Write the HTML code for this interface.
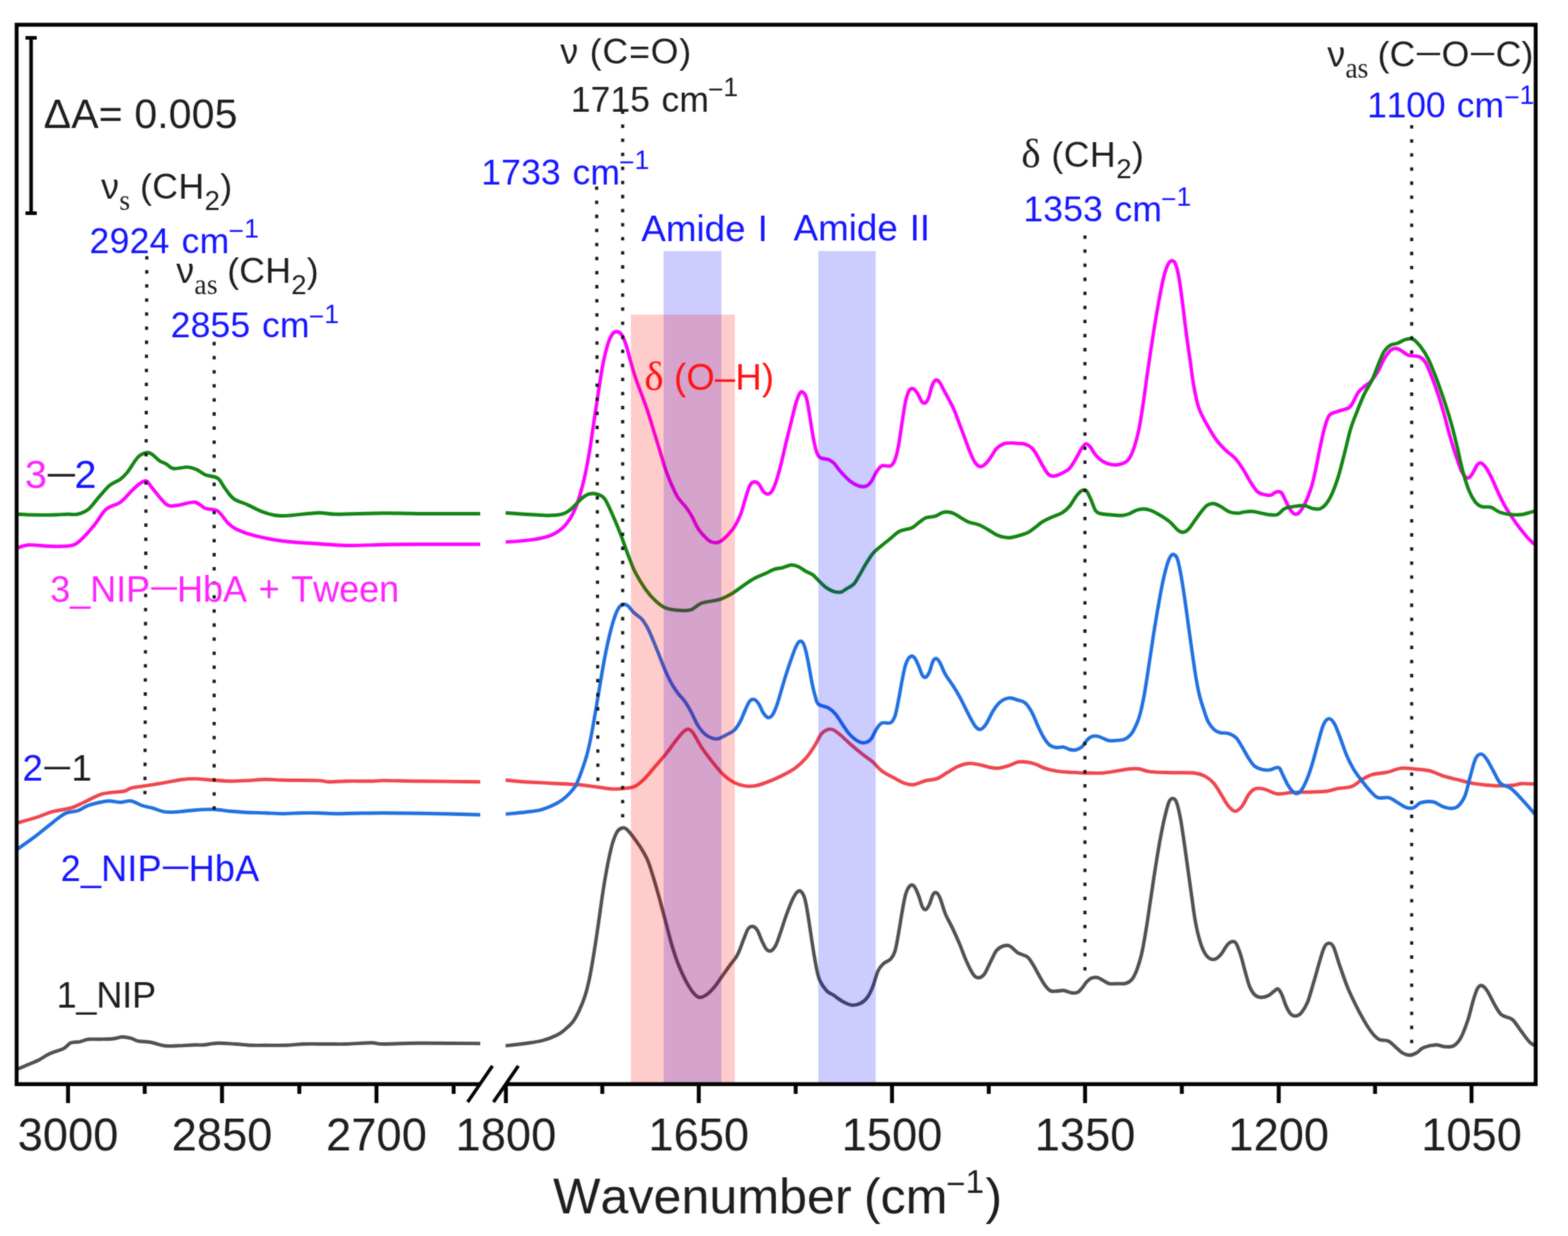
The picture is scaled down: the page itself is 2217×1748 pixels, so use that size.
<!DOCTYPE html>
<html lang="en">
<head>
<meta charset="utf-8">
<title>FTIR spectra</title>
<style>
html,body{margin:0;padding:0;background:#fff;}
body{width:2217px;height:1748px;overflow:hidden;}
svg{display:block;}
text{font-family:"Liberation Sans",Arial,Helvetica,sans-serif;font-kerning:none;}
.se{font-family:"Liberation Serif","Times New Roman",serif;}
.k{fill:#1c1c1c;}
.b{fill:#1414ff;}
.m{fill:#ff22ff;}
.r{fill:#ff1212;}
.c{fill:none;stroke-width:4.9;stroke-linejoin:round;stroke-linecap:butt;}
.d{fill:none;stroke:#151515;stroke-width:4.4;stroke-dasharray:4.8 15.1;}
</style>
</head>
<body>
<svg width="2217" height="1748" viewBox="0 0 2217 1748" role="img" aria-label="FTIR difference spectra">
<rect width="2217" height="1748" fill="#fff"/>
<filter id="soft" x="0" y="0" width="2217" height="1748" filterUnits="userSpaceOnUse" color-interpolation-filters="sRGB"><feGaussianBlur in="SourceGraphic" stdDeviation="1" result="b"/><feComposite in="SourceGraphic" in2="b" operator="arithmetic" k1="0" k2="0.45" k3="0.55" k4="0"/></filter>
<g filter="url(#soft)">
<rect width="2217" height="1748" fill="#fff"/>
<defs><clipPath id="cl"><rect x="23.5" y="35.0" width="655.5" height="1498.2"/></clipPath><clipPath id="cr"><rect x="714.5" y="35.0" width="1456.8" height="1498.2"/></clipPath></defs>
<g id="curves">
<path class="c" clip-path="url(#cl)" stroke="#4f4f4f" d="M23.8 1512.3C26.1 1511.3 32.3 1508.8 37.5 1506.6C42.7 1504.3 49.6 1501.8 55.1 1499.0C60.5 1496.3 64.2 1493.0 70.1 1490.3C75.9 1487.6 85.1 1485.4 90.1 1482.8C95.1 1480.2 96.3 1476.4 100.1 1474.8C103.8 1473.2 108.4 1474.1 112.6 1473.3C116.8 1472.4 120.5 1470.4 125.1 1469.8C129.7 1469.2 134.3 1469.9 140.1 1469.8C146.0 1469.6 154.7 1469.6 160.1 1469.0C165.6 1468.5 168.5 1466.6 172.7 1466.5C176.8 1466.4 181.4 1467.3 185.2 1468.3C188.9 1469.2 190.6 1471.3 195.2 1472.3C199.8 1473.2 206.4 1472.9 212.7 1474.0C219.0 1475.1 226.5 1478.2 232.7 1479.0C239.0 1479.9 243.1 1479.2 250.2 1479.0C257.3 1478.8 269.0 1478.0 275.3 1477.8C281.5 1477.6 282.3 1478.2 287.8 1477.8C293.2 1477.4 300.3 1475.5 307.8 1475.3C315.3 1475.1 324.9 1476.0 332.8 1476.5C340.7 1477.0 348.2 1478.0 355.3 1478.3C362.4 1478.6 367.0 1478.3 375.3 1478.3C383.7 1478.3 396.2 1478.6 405.4 1478.3C414.5 1478.0 420.8 1476.8 430.4 1476.5C440.0 1476.2 452.9 1476.5 462.9 1476.5C472.9 1476.5 480.0 1476.8 490.5 1476.5C500.9 1476.2 516.9 1474.8 525.5 1474.8C534.1 1474.8 530.9 1476.4 542.0 1476.5C553.1 1476.6 569.2 1475.4 592.0 1475.3C614.9 1475.1 664.6 1475.7 679.1 1475.8"/>
<path class="c" clip-path="url(#cr)" stroke="#4f4f4f" d="M714.7 1479.0C719.2 1478.5 733.4 1477.0 742.2 1475.8C750.9 1474.5 759.7 1473.5 767.2 1471.5C774.7 1469.6 781.9 1466.6 787.2 1464.0C792.6 1461.4 795.4 1458.9 799.2 1455.7C803.0 1452.6 806.7 1449.3 810.0 1445.0C813.2 1440.7 815.7 1436.0 818.6 1429.9C821.5 1423.8 824.7 1416.2 827.2 1408.3C829.7 1400.4 831.5 1392.9 833.7 1382.4C835.8 1372.0 838.0 1359.1 840.1 1345.8C842.3 1332.5 844.5 1317.4 846.6 1302.7C848.8 1287.9 850.9 1271.0 853.1 1257.4C855.2 1243.7 857.4 1231.5 859.5 1220.7C861.7 1210.0 863.9 1200.1 866.0 1192.7C868.2 1185.3 870.3 1180.1 872.5 1176.5C874.6 1172.9 876.8 1171.9 879.0 1171.1C881.1 1170.4 882.9 1170.4 885.4 1172.2C887.9 1174.0 890.8 1177.8 894.0 1181.9C897.3 1186.1 901.2 1191.3 904.8 1197.0C908.4 1202.8 912.4 1208.9 915.6 1216.4C918.8 1224.0 921.4 1233.0 924.2 1242.3C927.1 1251.6 930.0 1262.1 932.9 1272.5C935.7 1282.9 938.6 1294.0 941.5 1304.8C944.4 1315.6 947.2 1327.5 950.1 1337.2C953.0 1346.9 955.5 1354.8 958.7 1363.0C962.0 1371.3 965.9 1379.9 969.5 1386.8C973.1 1393.6 977.1 1400.1 980.3 1404.0C983.5 1408.0 985.7 1410.1 988.9 1410.5C992.1 1410.8 996.1 1408.7 999.7 1406.2C1003.3 1403.6 1006.9 1399.7 1010.5 1395.4C1014.1 1391.1 1017.7 1385.3 1021.3 1380.3C1024.8 1375.3 1028.4 1370.2 1032.0 1365.2C1035.6 1360.2 1039.6 1356.2 1042.8 1350.1C1046.0 1344.0 1048.9 1334.6 1051.4 1328.5C1054.0 1322.4 1055.7 1316.5 1057.9 1313.4C1060.1 1310.4 1062.2 1309.9 1064.4 1310.2C1066.5 1310.6 1068.7 1312.2 1070.8 1315.6C1073.0 1319.0 1075.2 1326.2 1077.3 1330.7C1079.5 1335.2 1081.6 1340.2 1083.8 1342.6C1085.9 1344.9 1088.1 1345.6 1090.2 1344.7C1092.4 1343.8 1094.6 1341.3 1096.7 1337.2C1098.9 1333.0 1100.7 1327.1 1103.2 1319.9C1105.7 1312.7 1108.9 1301.9 1111.8 1294.0C1114.7 1286.1 1117.9 1277.9 1120.4 1272.5C1122.9 1267.1 1124.9 1263.7 1126.9 1261.7C1128.9 1259.7 1130.5 1259.2 1132.3 1260.6C1134.1 1262.1 1136.1 1265.1 1137.7 1270.3C1139.3 1275.5 1140.6 1283.6 1142.0 1291.9C1143.4 1300.2 1144.9 1310.6 1146.3 1319.9C1147.7 1329.3 1149.2 1339.3 1150.6 1347.9C1152.1 1356.6 1153.5 1365.2 1154.9 1371.7C1156.4 1378.1 1156.9 1381.8 1159.2 1386.8C1161.6 1391.7 1165.8 1398.0 1169.1 1401.5C1172.4 1404.9 1175.3 1405.2 1179.1 1407.7C1182.8 1410.2 1187.4 1414.2 1191.6 1416.5C1195.8 1418.8 1199.9 1421.1 1204.1 1421.5C1208.3 1421.9 1212.9 1420.8 1216.6 1419.0C1220.4 1417.1 1223.7 1414.2 1226.6 1410.2C1229.6 1406.3 1231.6 1401.5 1234.1 1395.2C1236.6 1388.9 1239.1 1378.1 1241.6 1372.7C1244.1 1367.3 1246.2 1365.4 1249.2 1362.7C1252.1 1360.0 1256.5 1359.3 1259.2 1356.4C1261.9 1353.5 1263.5 1351.2 1265.4 1345.2C1267.3 1339.1 1268.8 1329.3 1270.4 1320.1C1272.1 1311.0 1273.8 1299.3 1275.4 1290.1C1277.1 1280.9 1278.6 1271.3 1280.4 1265.1C1282.3 1258.8 1284.6 1254.4 1286.7 1252.6C1288.8 1250.7 1290.9 1251.3 1292.9 1253.8C1295.0 1256.3 1297.3 1262.8 1299.2 1267.6C1301.1 1272.4 1302.5 1279.5 1304.2 1282.6C1305.9 1285.7 1307.5 1287.0 1309.2 1286.3C1310.9 1285.7 1312.5 1282.4 1314.2 1278.8C1315.9 1275.3 1317.5 1267.8 1319.2 1265.1C1320.9 1262.4 1322.6 1261.7 1324.2 1262.6C1325.9 1263.4 1327.1 1265.1 1329.2 1270.1C1331.3 1275.1 1333.8 1285.5 1336.7 1292.6C1339.7 1299.7 1343.4 1305.5 1346.7 1312.6C1350.1 1319.7 1353.4 1327.2 1356.8 1335.1C1360.1 1343.1 1363.4 1352.9 1366.8 1360.2C1370.1 1367.5 1373.9 1375.2 1376.8 1378.9C1379.7 1382.7 1381.8 1382.9 1384.3 1382.7C1386.8 1382.5 1388.9 1381.9 1391.8 1377.7C1394.7 1373.5 1398.9 1363.3 1401.8 1357.7C1404.7 1352.0 1406.4 1347.2 1409.3 1343.9C1412.2 1340.6 1416.2 1338.6 1419.3 1337.6C1422.4 1336.7 1424.7 1336.5 1428.1 1338.1C1431.4 1339.8 1435.4 1345.2 1439.3 1347.7C1443.3 1350.1 1448.6 1350.5 1451.8 1352.7C1455.1 1354.9 1456.1 1357.0 1458.6 1360.9C1461.2 1364.8 1464.4 1370.9 1467.2 1376.0C1470.1 1381.0 1473.0 1386.9 1475.9 1391.1C1478.7 1395.2 1481.6 1399.0 1484.5 1400.8C1487.4 1402.6 1489.9 1401.8 1493.1 1401.8C1496.4 1401.8 1500.3 1400.4 1503.9 1400.8C1507.5 1401.1 1511.4 1403.5 1514.7 1404.0C1517.9 1404.5 1520.8 1404.6 1523.3 1403.6C1525.8 1402.5 1527.6 1400.0 1529.8 1397.5C1531.9 1395.1 1534.1 1391.2 1536.2 1388.9C1538.4 1386.6 1540.2 1384.6 1542.7 1383.5C1545.2 1382.4 1548.5 1381.9 1551.3 1382.4C1554.2 1383.0 1557.1 1385.3 1560.0 1386.8C1562.8 1388.2 1565.0 1390.3 1568.6 1391.1C1572.2 1391.8 1577.6 1391.1 1581.5 1391.1C1585.5 1391.0 1589.1 1391.7 1592.3 1390.6C1595.5 1389.6 1598.4 1387.8 1600.9 1384.6C1603.4 1381.4 1605.2 1377.4 1607.4 1371.7C1609.5 1365.9 1611.7 1359.4 1613.9 1350.1C1616.0 1340.8 1618.2 1328.5 1620.3 1315.6C1622.5 1302.7 1624.6 1286.9 1626.8 1272.5C1629.0 1258.1 1631.1 1243.0 1633.3 1229.4C1635.4 1215.7 1637.6 1202.4 1639.7 1190.6C1641.9 1178.7 1644.0 1167.6 1646.2 1158.2C1648.4 1148.9 1650.7 1139.3 1652.7 1134.5C1654.6 1129.6 1656.3 1129.1 1658.1 1129.1C1659.9 1129.1 1661.7 1130.0 1663.4 1134.5C1665.2 1139.0 1667.0 1146.7 1668.8 1156.1C1670.6 1165.4 1672.4 1178.3 1674.2 1190.6C1676.0 1202.8 1677.8 1216.4 1679.6 1229.4C1681.4 1242.3 1683.4 1256.7 1685.0 1268.2C1686.6 1279.7 1687.7 1289.0 1689.3 1298.4C1690.9 1307.7 1692.7 1316.7 1694.7 1324.2C1696.7 1331.8 1698.8 1338.6 1701.2 1343.6C1703.5 1348.7 1706.0 1352.3 1708.7 1354.4C1711.4 1356.6 1714.5 1357.3 1717.3 1356.6C1720.2 1355.9 1723.1 1353.3 1726.0 1350.1C1728.8 1346.9 1732.1 1340.2 1734.6 1337.2C1737.1 1334.1 1738.9 1332.3 1741.1 1331.8C1743.2 1331.2 1745.4 1330.9 1747.5 1333.9C1749.7 1337.0 1751.8 1343.5 1754.0 1350.1C1756.2 1356.7 1758.3 1366.3 1760.5 1373.8C1762.6 1381.4 1764.8 1390.0 1766.9 1395.4C1769.1 1400.8 1770.9 1403.6 1773.4 1406.2C1775.9 1408.7 1778.8 1410.1 1782.0 1410.5C1785.3 1410.8 1789.6 1409.8 1792.8 1408.3C1796.0 1406.9 1799.1 1403.5 1801.4 1401.8C1803.8 1400.2 1805.0 1397.9 1806.8 1398.6C1808.6 1399.3 1810.2 1402.0 1812.2 1406.2C1814.2 1410.3 1816.5 1418.7 1818.7 1423.4C1820.8 1428.1 1822.8 1432.0 1825.2 1434.2C1827.5 1436.4 1830.2 1437.1 1832.7 1436.8C1835.2 1436.4 1837.5 1435.3 1840.2 1432.0C1842.9 1428.7 1846.0 1424.1 1848.9 1416.9C1851.7 1409.8 1854.6 1398.6 1857.5 1388.9C1860.4 1379.2 1863.6 1367.0 1866.1 1358.7C1868.6 1350.5 1870.4 1343.5 1872.6 1339.3C1874.7 1335.2 1876.9 1333.9 1879.1 1333.9C1881.2 1333.9 1883.0 1334.1 1885.5 1339.3C1888.0 1344.5 1890.9 1355.9 1894.1 1365.2C1897.4 1374.5 1901.8 1387.5 1904.9 1395.4C1908.0 1403.3 1909.8 1406.5 1912.7 1412.7C1915.7 1418.9 1919.4 1426.5 1922.7 1432.7C1926.1 1439.0 1929.4 1445.0 1932.7 1450.2C1936.1 1455.5 1939.8 1460.7 1942.7 1464.0C1945.7 1467.3 1946.9 1468.9 1950.3 1470.3C1953.6 1471.6 1959.0 1470.6 1962.8 1472.3C1966.5 1473.9 1969.4 1477.5 1972.8 1480.3C1976.1 1483.1 1979.4 1487.0 1982.8 1489.0C1986.1 1491.0 1989.5 1492.3 1992.8 1492.3C1996.1 1492.3 1999.5 1490.8 2002.8 1489.0C2006.1 1487.2 2008.2 1483.4 2012.8 1481.5C2017.4 1479.7 2025.3 1478.0 2030.3 1477.8C2035.3 1477.6 2038.7 1480.1 2042.8 1480.3C2047.0 1480.5 2051.6 1481.1 2055.4 1479.0C2059.1 1476.9 2062.0 1473.8 2065.4 1467.8C2068.7 1461.7 2072.4 1451.5 2075.4 1442.7C2078.3 1434.0 2080.6 1422.7 2082.9 1415.2C2085.2 1407.7 2087.0 1401.2 2089.1 1397.7C2091.2 1394.2 2093.1 1393.3 2095.4 1393.9C2097.7 1394.6 2100.0 1397.1 2102.9 1401.5C2105.8 1405.8 2109.6 1414.6 2112.9 1420.2C2116.2 1425.9 2118.7 1431.7 2122.9 1435.2C2127.1 1438.8 2133.3 1437.7 2137.9 1441.5C2142.5 1445.2 2146.3 1452.3 2150.4 1457.8C2154.6 1463.2 2159.4 1470.5 2163.0 1474.0C2166.5 1477.6 2170.2 1478.2 2171.7 1479.0"/>
<path class="c" clip-path="url(#cl)" stroke="#f0444c" d="M23.8 1164.0C28.2 1162.7 41.5 1159.2 50.0 1156.5C58.6 1153.8 66.7 1150.0 75.1 1147.7C83.4 1145.4 92.6 1145.0 100.1 1142.7C107.6 1140.4 112.6 1137.3 120.1 1134.0C127.6 1130.6 136.0 1125.2 145.1 1122.7C154.3 1120.2 168.5 1120.3 175.2 1119.0C181.8 1117.6 180.2 1115.9 185.2 1114.7C190.2 1113.4 196.8 1112.8 205.2 1111.4C213.5 1110.1 226.9 1107.9 235.2 1106.4C243.6 1105.0 248.6 1103.5 255.2 1102.7C261.9 1101.9 267.7 1101.4 275.3 1101.4C282.8 1101.5 291.9 1102.6 300.3 1103.2C308.6 1103.7 317.0 1104.6 325.3 1104.7C333.6 1104.8 342.0 1104.4 350.3 1103.9C358.7 1103.5 367.0 1102.3 375.3 1102.2C383.7 1102.1 387.9 1102.9 400.4 1103.2C412.9 1103.5 439.6 1103.5 450.4 1103.9C461.3 1104.4 458.8 1105.6 465.4 1105.7C472.1 1105.8 480.4 1104.9 490.5 1104.7C500.5 1104.5 516.9 1104.8 525.5 1104.7C534.1 1104.6 530.9 1103.9 542.0 1103.9C553.1 1103.9 569.2 1104.4 592.0 1104.7C614.9 1105.0 664.6 1105.5 679.1 1105.7"/>
<path class="c" clip-path="url(#cr)" stroke="#f0444c" d="M714.7 1103.2C719.2 1103.6 731.3 1104.9 742.2 1105.7C753.0 1106.4 767.2 1107.0 779.7 1107.7C792.2 1108.4 806.8 1108.9 817.3 1109.7C827.7 1110.5 834.4 1111.7 842.3 1112.7C850.2 1113.7 858.5 1115.3 864.8 1115.7C871.1 1116.1 874.4 1115.8 879.8 1115.2C885.2 1114.6 891.9 1114.7 897.3 1112.2C902.7 1109.7 907.3 1105.1 912.3 1100.2C917.3 1095.3 922.4 1088.5 927.4 1082.7C932.4 1076.8 937.4 1071.4 942.4 1065.2C947.4 1058.9 953.2 1050.3 957.4 1045.1C961.6 1039.9 964.7 1036.2 967.4 1033.9C970.1 1031.6 971.6 1031.0 973.6 1031.4C975.7 1031.8 976.8 1032.0 979.9 1036.4C983.0 1040.8 987.8 1050.8 992.4 1057.6C997.0 1064.5 1002.4 1071.4 1007.4 1077.7C1012.4 1083.9 1017.4 1090.4 1022.4 1095.2C1027.4 1100.0 1032.5 1103.7 1037.5 1106.4C1042.5 1109.2 1047.5 1110.6 1052.5 1111.4C1057.5 1112.3 1062.2 1112.3 1067.5 1111.4C1072.7 1110.6 1077.9 1108.7 1084.0 1106.4C1090.1 1104.1 1097.3 1101.0 1104.0 1097.7C1110.7 1094.3 1118.2 1090.6 1124.0 1086.4C1129.9 1082.3 1134.5 1077.9 1139.1 1072.7C1143.6 1067.4 1147.8 1061.0 1151.6 1055.1C1155.3 1049.3 1158.2 1041.6 1161.6 1037.6C1164.9 1033.7 1168.7 1032.2 1171.6 1031.4C1174.5 1030.5 1176.2 1031.2 1179.1 1032.6C1182.0 1034.1 1184.9 1036.6 1189.1 1040.1C1193.3 1043.7 1199.1 1049.5 1204.1 1053.9C1209.1 1058.3 1214.1 1062.4 1219.1 1066.4C1224.1 1070.4 1229.6 1073.7 1234.1 1077.7C1238.7 1081.6 1241.6 1086.4 1246.7 1090.2C1251.7 1093.9 1258.7 1097.3 1264.2 1100.2C1269.6 1103.1 1274.6 1106.1 1279.2 1107.7C1283.8 1109.3 1286.7 1110.3 1291.7 1109.7C1296.7 1109.1 1303.8 1105.3 1309.2 1103.9C1314.6 1102.6 1319.2 1103.3 1324.2 1101.4C1329.2 1099.6 1334.2 1095.6 1339.2 1092.7C1344.2 1089.8 1349.2 1086.1 1354.2 1083.9C1359.3 1081.8 1364.3 1080.1 1369.3 1079.7C1374.3 1079.2 1379.3 1080.5 1384.3 1081.4C1389.3 1082.3 1394.7 1084.3 1399.3 1085.2C1403.9 1086.0 1407.2 1086.8 1411.8 1086.4C1416.4 1086.0 1422.2 1084.1 1426.8 1082.7C1431.4 1081.2 1435.2 1078.5 1439.3 1077.7C1443.5 1076.8 1447.7 1077.2 1451.8 1077.7C1456.0 1078.2 1460.2 1079.2 1464.4 1080.7C1468.5 1082.1 1471.9 1084.8 1476.9 1086.4C1481.9 1088.1 1488.1 1089.7 1494.4 1090.7C1500.6 1091.6 1507.7 1091.8 1514.4 1092.2C1521.1 1092.6 1526.9 1093.0 1534.4 1093.2C1541.9 1093.3 1551.9 1093.7 1559.4 1093.2C1566.9 1092.7 1573.6 1091.1 1579.5 1090.2C1585.3 1089.3 1589.5 1088.2 1594.5 1087.7C1599.5 1087.2 1604.2 1086.5 1609.5 1087.2C1614.7 1087.8 1618.2 1090.5 1626.0 1091.4C1633.8 1092.3 1645.6 1092.4 1656.0 1092.7C1666.5 1093.0 1680.6 1092.3 1688.6 1093.2C1696.5 1094.0 1699.0 1095.3 1703.6 1097.7C1708.2 1100.1 1712.3 1103.5 1716.1 1107.7C1719.8 1111.9 1722.8 1117.5 1726.1 1122.7C1729.4 1127.9 1732.8 1134.9 1736.1 1139.0C1739.4 1143.1 1742.8 1147.0 1746.1 1147.2C1749.4 1147.4 1752.8 1144.3 1756.1 1140.2C1759.5 1136.1 1762.8 1126.9 1766.1 1122.7C1769.5 1118.5 1772.4 1116.2 1776.1 1115.2C1779.9 1114.2 1783.6 1115.2 1788.7 1116.4C1793.7 1117.7 1799.9 1122.0 1806.2 1122.7C1812.4 1123.4 1818.7 1121.1 1826.2 1120.7C1833.7 1120.3 1842.9 1120.5 1851.2 1120.2C1859.5 1119.9 1869.6 1119.8 1876.2 1119.0C1882.9 1118.1 1885.4 1116.3 1891.2 1115.2C1897.1 1114.1 1905.4 1114.4 1911.3 1112.2C1917.1 1110.0 1921.3 1105.0 1926.3 1102.2C1931.3 1099.4 1935.5 1096.8 1941.3 1095.2C1947.1 1093.5 1954.6 1093.6 1961.3 1092.2C1968.0 1090.7 1974.7 1087.2 1981.3 1086.4C1988.0 1085.7 1994.7 1087.0 2001.3 1087.7C2008.0 1088.3 2014.7 1088.5 2021.4 1090.2C2028.0 1091.8 2034.7 1095.6 2041.4 1097.7C2048.1 1099.8 2054.7 1101.0 2061.4 1102.7C2068.1 1104.4 2074.7 1106.4 2081.4 1107.7C2088.1 1108.9 2094.8 1109.6 2101.4 1110.2C2108.1 1110.8 2114.8 1111.4 2121.5 1111.4C2128.1 1111.4 2136.5 1110.7 2141.5 1110.2C2146.5 1109.7 2146.7 1108.4 2151.5 1108.2C2156.3 1108.0 2167.1 1108.8 2170.3 1108.9"/>
<path class="c" clip-path="url(#cl)" stroke="#1f6fe0" d="M23.8 1201.5C28.2 1198.4 41.5 1189.2 50.0 1182.8C58.6 1176.3 68.0 1168.2 75.1 1162.7C82.2 1157.3 86.7 1152.9 92.6 1150.2C98.4 1147.5 104.7 1148.4 110.1 1146.5C115.5 1144.6 119.3 1141.1 125.1 1139.0C131.0 1136.9 140.1 1135.0 145.1 1134.0C150.1 1132.9 151.0 1132.6 155.1 1132.7C159.3 1132.8 165.2 1134.7 170.2 1134.7C175.2 1134.7 180.2 1132.0 185.2 1132.7C190.2 1133.4 195.2 1137.3 200.2 1139.0C205.2 1140.6 209.8 1141.2 215.2 1142.7C220.6 1144.3 226.9 1147.3 232.7 1148.2C238.6 1149.1 243.1 1148.6 250.2 1148.2C257.3 1147.8 266.5 1146.3 275.3 1145.7C284.0 1145.1 294.4 1144.5 302.8 1144.7C311.1 1145.0 317.4 1146.5 325.3 1147.2C333.2 1147.9 342.0 1148.6 350.3 1149.0C358.7 1149.4 367.0 1149.4 375.3 1149.7C383.7 1150.0 392.0 1150.7 400.4 1150.7C408.7 1150.7 417.1 1149.9 425.4 1149.7C433.7 1149.6 442.1 1149.6 450.4 1149.7C458.8 1149.9 467.1 1150.6 475.4 1150.7C483.8 1150.8 489.4 1150.4 500.5 1150.2C511.6 1150.1 526.7 1149.7 542.0 1149.7C557.3 1149.7 569.2 1149.8 592.0 1150.2C614.9 1150.6 664.6 1151.9 679.1 1152.2"/>
<path class="c" clip-path="url(#cr)" stroke="#1f6fe0" d="M715.1 1151.3C719.8 1150.8 734.9 1149.5 743.1 1148.5C751.4 1147.5 758.2 1146.9 764.7 1145.3C771.1 1143.7 776.9 1141.1 781.9 1138.8C787.0 1136.5 790.9 1134.1 794.9 1131.3C798.8 1128.4 802.4 1125.0 805.6 1121.6C808.9 1118.1 812.5 1113.4 814.3 1110.8C816.1 1108.1 815.3 1108.4 816.4 1105.7C817.5 1103.1 818.6 1101.1 820.7 1095.0C822.9 1088.9 826.8 1078.1 829.4 1069.1C831.9 1060.1 833.7 1051.8 835.8 1041.1C838.0 1030.3 840.1 1017.0 842.3 1004.4C844.5 991.8 846.6 978.2 848.8 965.6C850.9 953.0 853.1 940.1 855.2 929.0C857.4 917.8 859.5 907.8 861.7 898.8C863.9 889.8 866.0 881.5 868.2 875.1C870.3 868.6 872.5 863.4 874.6 860.0C876.8 856.5 879.0 855.1 881.1 854.6C883.3 854.0 885.1 854.7 887.6 856.7C890.1 858.7 893.0 863.4 896.2 866.4C899.4 869.5 903.7 871.5 907.0 875.1C910.2 878.6 912.7 882.6 915.6 888.0C918.5 893.4 921.4 900.6 924.2 907.4C927.1 914.2 930.0 921.8 932.9 929.0C935.7 936.1 938.6 944.0 941.5 950.5C944.4 957.0 947.2 962.7 950.1 967.8C953.0 972.8 955.5 976.4 958.7 980.7C962.0 985.0 966.3 989.0 969.5 993.6C972.7 998.3 975.3 1003.3 978.1 1008.7C981.0 1014.1 983.5 1020.9 986.8 1026.0C990.0 1031.0 993.9 1035.9 997.5 1038.9C1001.1 1042.0 1005.1 1043.4 1008.3 1044.3C1011.5 1045.2 1013.7 1045.2 1016.9 1044.3C1020.2 1043.4 1024.1 1040.9 1027.7 1038.9C1031.3 1036.9 1035.3 1035.7 1038.5 1032.4C1041.7 1029.2 1044.6 1024.2 1047.1 1019.5C1049.6 1014.8 1051.4 1009.1 1053.6 1004.4C1055.7 999.7 1057.9 994.0 1060.1 991.5C1062.2 989.0 1064.4 988.6 1066.5 989.3C1068.7 990.0 1070.8 992.6 1073.0 995.8C1075.2 999.0 1077.3 1005.6 1079.5 1008.7C1081.6 1011.9 1083.8 1014.4 1085.9 1014.8C1088.1 1015.1 1090.2 1014.0 1092.4 1010.9C1094.6 1007.7 1096.7 1001.9 1098.9 995.8C1101.0 989.7 1103.2 981.4 1105.3 974.2C1107.5 967.0 1109.6 959.5 1111.8 952.7C1114.0 945.8 1116.1 939.4 1118.3 933.3C1120.4 927.2 1122.8 920.3 1124.7 916.0C1126.7 911.7 1128.3 908.5 1130.1 907.4C1131.9 906.3 1133.9 907.0 1135.5 909.5C1137.1 912.1 1138.4 916.7 1139.8 922.5C1141.3 928.2 1142.7 936.5 1144.1 944.0C1145.6 951.6 1147.0 960.9 1148.5 967.8C1149.9 974.6 1151.3 980.3 1152.8 985.0C1154.2 989.7 1153.9 993.1 1157.1 995.8C1160.2 998.5 1167.5 999.0 1171.6 1001.3C1175.7 1003.7 1178.3 1006.1 1181.6 1010.1C1184.9 1014.1 1188.3 1020.3 1191.6 1025.1C1194.9 1029.9 1197.9 1034.9 1201.6 1038.9C1205.4 1042.8 1210.4 1047.0 1214.1 1048.9C1217.9 1050.8 1221.2 1050.8 1224.1 1050.1C1227.0 1049.5 1229.1 1048.3 1231.6 1045.1C1234.1 1042.0 1236.6 1035.1 1239.1 1031.4C1241.6 1027.6 1243.3 1024.2 1246.7 1022.6C1250.0 1021.1 1256.0 1023.8 1259.2 1022.1C1262.3 1020.4 1263.5 1017.9 1265.4 1012.6C1267.3 1007.3 1268.8 998.4 1270.4 990.1C1272.1 981.7 1273.8 970.9 1275.4 962.6C1277.1 954.2 1278.6 945.7 1280.4 940.0C1282.3 934.4 1284.6 930.4 1286.7 928.8C1288.8 927.1 1290.9 927.7 1292.9 930.0C1295.0 932.3 1297.3 938.4 1299.2 942.5C1301.1 946.7 1302.5 952.5 1304.2 955.1C1305.9 957.6 1307.5 958.4 1309.2 957.6C1310.9 956.7 1312.5 953.8 1314.2 950.0C1315.9 946.3 1317.5 938.2 1319.2 935.0C1320.9 931.9 1322.6 930.9 1324.2 931.3C1325.9 931.7 1327.1 933.8 1329.2 937.5C1331.3 941.3 1333.4 948.0 1336.7 953.8C1340.1 959.6 1345.5 966.5 1349.2 972.6C1353.0 978.6 1355.9 983.8 1359.3 990.1C1362.6 996.3 1365.9 1003.8 1369.3 1010.1C1372.6 1016.4 1376.4 1024.1 1379.3 1027.6C1382.2 1031.2 1384.3 1032.0 1386.8 1031.4C1389.3 1030.7 1391.4 1028.2 1394.3 1023.9C1397.2 1019.5 1401.0 1010.3 1404.3 1005.1C1407.6 999.9 1410.6 995.6 1414.3 992.6C1418.1 989.6 1422.6 987.5 1426.8 987.1C1431.0 986.7 1435.6 989.0 1439.3 990.1C1443.1 991.2 1446.1 991.1 1449.3 993.8C1452.6 996.6 1455.6 1001.2 1458.6 1006.6C1461.6 1011.9 1464.4 1019.9 1467.2 1026.0C1470.1 1032.1 1473.0 1038.6 1475.9 1043.2C1478.7 1047.9 1481.6 1051.7 1484.5 1054.0C1487.4 1056.3 1489.9 1056.8 1493.1 1057.2C1496.4 1057.7 1500.7 1056.1 1503.9 1056.6C1507.1 1057.1 1509.7 1059.4 1512.5 1060.0C1515.4 1060.7 1518.3 1061.1 1521.1 1060.5C1524.0 1059.8 1527.3 1058.3 1529.8 1056.2C1532.3 1054.0 1534.1 1049.9 1536.2 1047.5C1538.4 1045.2 1540.2 1043.2 1542.7 1042.1C1545.2 1041.1 1548.5 1040.7 1551.3 1041.1C1554.2 1041.4 1557.1 1043.2 1560.0 1044.3C1562.8 1045.4 1565.3 1047.1 1568.6 1047.5C1571.8 1048.0 1575.8 1047.5 1579.4 1047.1C1583.0 1046.7 1586.9 1046.7 1590.1 1045.4C1593.4 1044.0 1596.3 1041.8 1598.8 1038.9C1601.3 1036.0 1603.1 1032.8 1605.2 1028.1C1607.4 1023.5 1609.5 1018.8 1611.7 1010.9C1613.9 1003.0 1616.0 992.6 1618.2 980.7C1620.3 968.8 1622.5 953.7 1624.6 939.7C1626.8 925.7 1629.0 910.3 1631.1 896.6C1633.3 883.0 1635.4 870.0 1637.6 857.8C1639.7 845.6 1641.9 833.4 1644.0 823.3C1646.2 813.2 1648.5 803.7 1650.5 797.4C1652.5 791.1 1654.3 787.7 1655.9 785.6C1657.5 783.4 1658.8 783.8 1660.2 784.5C1661.7 785.2 1663.1 785.9 1664.5 789.9C1666.0 793.8 1667.2 799.8 1668.8 808.2C1670.5 816.7 1672.4 828.7 1674.2 840.6C1676.0 852.4 1677.8 866.4 1679.6 879.4C1681.4 892.3 1683.2 905.6 1685.0 918.2C1686.8 930.7 1688.6 944.0 1690.4 954.8C1692.2 965.6 1693.8 974.6 1695.8 982.9C1697.8 991.1 1700.1 997.9 1702.3 1004.4C1704.4 1010.9 1706.2 1017.0 1708.7 1021.7C1711.2 1026.3 1714.5 1030.0 1717.3 1032.4C1720.2 1034.9 1722.7 1035.5 1726.0 1036.3C1729.2 1037.1 1733.2 1036.0 1736.8 1037.2C1740.3 1038.3 1744.3 1040.1 1747.5 1043.2C1750.8 1046.4 1753.3 1051.5 1756.2 1056.2C1759.0 1060.8 1761.9 1066.8 1764.8 1071.3C1767.7 1075.7 1770.2 1080.3 1773.4 1083.1C1776.6 1085.9 1780.6 1087.1 1784.2 1088.1C1787.8 1089.0 1791.7 1089.3 1795.0 1088.9C1798.2 1088.6 1801.3 1086.3 1803.6 1085.9C1805.9 1085.5 1807.2 1084.5 1809.0 1086.3C1810.8 1088.2 1812.4 1093.2 1814.4 1097.1C1816.3 1101.1 1818.9 1106.6 1820.8 1110.1C1822.8 1113.5 1824.3 1115.7 1826.2 1117.7C1828.1 1119.7 1830.1 1122.2 1832.4 1122.2C1834.7 1122.2 1837.2 1121.4 1839.9 1117.7C1842.7 1114.0 1846.0 1106.9 1848.7 1100.2C1851.4 1093.5 1853.7 1086.0 1856.2 1077.7C1858.7 1069.3 1861.2 1058.9 1863.7 1050.1C1866.2 1041.4 1868.7 1030.7 1871.2 1025.1C1873.7 1019.5 1876.2 1016.8 1878.7 1016.4C1881.2 1015.9 1883.7 1018.7 1886.2 1022.6C1888.7 1026.6 1890.8 1032.6 1893.7 1040.1C1896.7 1047.6 1900.4 1059.7 1903.8 1067.7C1907.1 1075.6 1910.0 1081.4 1913.8 1087.7C1917.5 1093.9 1922.1 1099.8 1926.3 1105.2C1930.4 1110.6 1935.0 1116.4 1938.8 1120.2C1942.5 1124.0 1944.6 1126.9 1948.8 1128.2C1953.0 1129.5 1959.2 1127.0 1963.8 1128.2C1968.4 1129.4 1972.2 1132.9 1976.3 1135.2C1980.5 1137.6 1985.1 1141.1 1988.8 1142.2C1992.6 1143.4 1995.5 1143.4 1998.8 1142.2C2002.2 1141.1 2004.3 1136.6 2008.9 1135.2C2013.4 1133.8 2021.4 1133.1 2026.4 1134.0C2031.4 1134.8 2034.7 1138.7 2038.9 1140.2C2043.1 1141.8 2047.6 1143.2 2051.4 1143.2C2055.1 1143.2 2058.1 1143.2 2061.4 1140.2C2064.7 1137.2 2068.5 1132.3 2071.4 1125.2C2074.3 1118.1 2076.4 1106.4 2078.9 1097.7C2081.4 1088.9 2083.9 1077.9 2086.4 1072.7C2088.9 1067.4 2091.4 1066.4 2093.9 1066.4C2096.4 1066.4 2098.5 1068.7 2101.4 1072.7C2104.4 1076.6 2108.1 1084.3 2111.4 1090.2C2114.8 1096.0 2117.3 1103.5 2121.5 1107.7C2125.6 1111.9 2131.5 1111.4 2136.5 1115.2C2141.5 1119.0 2145.9 1124.2 2151.5 1130.2C2157.1 1136.3 2167.1 1147.9 2170.3 1151.5"/>
<path class="c" clip-path="url(#cl)" stroke="#ff00ff" d="M23.8 775.3C26.5 774.5 33.2 771.3 40.0 770.7C46.9 770.2 57.6 771.9 65.1 772.3C72.6 772.6 78.4 773.1 85.1 772.8C91.8 772.4 99.3 772.8 105.1 770.2C110.9 767.7 115.1 762.7 120.1 757.7C125.1 752.7 130.1 746.5 135.1 740.2C140.1 734.0 144.3 725.2 150.1 720.2C156.0 715.2 164.3 714.4 170.2 710.2C176.0 706.0 180.6 699.6 185.2 695.2C189.8 690.8 194.0 686.4 197.7 683.9C201.4 681.4 204.3 679.1 207.2 680.2C210.1 681.2 210.5 684.7 215.2 690.2C219.9 695.7 229.4 709.1 235.2 713.2C241.1 717.3 243.6 715.2 250.2 714.7C256.9 714.2 268.6 709.5 275.3 710.2C281.9 710.9 284.8 716.9 290.3 719.0C295.7 721.0 302.4 719.2 307.8 722.7C313.2 726.3 318.2 735.8 322.8 740.2C327.4 744.6 329.1 746.1 335.3 749.0C341.6 751.9 349.5 755.0 360.3 757.7C371.2 760.4 385.4 763.4 400.4 765.2C415.4 767.1 435.4 768.0 450.4 769.0C465.4 770.0 475.2 771.3 490.5 771.5C505.7 771.7 525.1 770.5 542.0 770.2C558.9 770.0 569.2 769.8 592.0 769.7C614.9 769.7 664.6 769.7 679.1 769.7"/>
<path class="c" clip-path="url(#cr)" stroke="#ff00ff" d="M715.1 766.5C719.8 766.2 734.9 765.3 743.1 764.4C751.4 763.5 758.2 762.6 764.7 761.1C771.1 759.7 776.9 758.1 781.9 755.7C787.0 753.4 790.9 750.7 794.9 747.1C798.8 743.5 802.4 739.2 805.6 734.2C808.9 729.2 811.8 723.0 814.3 716.9C816.8 710.8 818.6 705.1 820.7 697.5C822.9 690.0 825.1 681.7 827.2 671.7C829.4 661.6 831.5 650.1 833.7 637.2C835.8 624.2 838.0 608.4 840.1 594.0C842.3 579.7 844.5 564.6 846.6 550.9C848.8 537.3 850.9 522.9 853.1 512.1C855.2 501.3 857.4 492.9 859.5 486.2C861.7 479.6 863.9 475.1 866.0 472.2C868.2 469.4 870.3 468.8 872.5 469.0C874.6 469.2 876.8 470.1 879.0 473.3C881.1 476.5 883.3 481.9 885.4 488.4C887.6 494.9 889.7 504.6 891.9 512.1C894.0 519.7 895.8 526.1 898.4 533.7C900.9 541.2 904.1 549.5 907.0 557.4C909.9 565.3 912.7 572.5 915.6 581.1C918.5 589.7 921.4 599.8 924.2 609.1C927.1 618.5 930.0 627.8 932.9 637.2C935.7 646.5 938.6 656.9 941.5 665.2C944.4 673.5 947.2 680.3 950.1 686.8C953.0 693.2 955.5 699.0 958.7 704.0C962.0 709.0 966.3 712.6 969.5 716.9C972.7 721.3 975.3 724.8 978.1 729.9C981.0 734.9 983.5 742.1 986.8 747.1C990.0 752.2 994.3 756.8 997.5 760.1C1000.8 763.3 1002.9 765.5 1006.2 766.5C1009.4 767.6 1013.3 768.0 1016.9 766.5C1020.5 765.1 1024.1 761.5 1027.7 757.9C1031.3 754.3 1035.3 750.0 1038.5 745.0C1041.7 739.9 1044.6 734.2 1047.1 727.7C1049.6 721.3 1051.4 713.0 1053.6 706.2C1055.7 699.3 1057.9 690.9 1060.1 686.8C1062.2 682.6 1064.4 681.7 1066.5 681.4C1068.7 681.0 1070.8 682.3 1073.0 684.6C1075.2 686.9 1077.3 693.0 1079.5 695.4C1081.6 697.7 1083.8 699.0 1085.9 698.6C1088.1 698.3 1090.2 697.0 1092.4 693.2C1094.6 689.4 1096.7 682.8 1098.9 676.0C1101.0 669.1 1103.2 660.9 1105.3 652.3C1107.5 643.6 1109.6 633.2 1111.8 624.2C1114.0 615.2 1116.1 607.0 1118.3 598.4C1120.4 589.7 1122.8 579.3 1124.7 572.5C1126.7 565.7 1128.5 560.4 1130.1 557.4C1131.7 554.3 1132.8 553.4 1134.4 554.2C1136.1 554.9 1138.2 556.9 1139.8 561.7C1141.5 566.6 1142.7 575.0 1144.1 583.3C1145.6 591.5 1147.0 603.0 1148.5 611.3C1149.9 619.6 1151.3 627.3 1152.8 632.9C1154.2 638.4 1155.6 642.2 1157.1 644.7C1158.5 647.3 1159.2 647.2 1161.6 648.1C1164.0 649.0 1168.7 649.0 1171.6 650.1C1174.5 651.3 1176.2 652.2 1179.1 655.1C1182.0 658.1 1185.3 663.5 1189.1 667.7C1192.9 671.8 1197.4 676.9 1201.6 680.2C1205.8 683.4 1210.4 685.9 1214.1 687.2C1217.9 688.4 1221.2 688.6 1224.1 687.7C1227.0 686.7 1229.1 684.8 1231.6 681.4C1234.1 678.1 1236.6 671.4 1239.1 667.7C1241.6 663.9 1243.3 660.4 1246.7 658.9C1250.0 657.4 1256.0 660.4 1259.2 658.9C1262.3 657.4 1263.5 654.9 1265.4 650.1C1267.3 645.3 1268.8 638.9 1270.4 630.1C1272.1 621.4 1273.8 608.0 1275.4 597.6C1277.1 587.2 1278.8 575.1 1280.4 567.6C1282.1 560.1 1283.6 555.5 1285.4 552.5C1287.3 549.6 1289.6 549.2 1291.7 550.0C1293.8 550.9 1296.1 554.6 1297.9 557.6C1299.8 560.5 1301.3 565.5 1303.0 567.6C1304.6 569.6 1306.3 570.9 1308.0 570.1C1309.6 569.2 1311.3 566.7 1313.0 562.6C1314.6 558.4 1316.3 549.2 1318.0 545.0C1319.6 540.9 1321.3 538.4 1323.0 537.5C1324.6 536.7 1326.1 537.7 1328.0 540.0C1329.9 542.3 1331.9 547.1 1334.2 551.3C1336.5 555.5 1339.2 560.3 1341.7 565.1C1344.2 569.9 1346.7 574.2 1349.2 580.1C1351.7 585.9 1354.2 593.4 1356.8 600.1C1359.3 606.8 1361.8 613.4 1364.3 620.1C1366.8 626.8 1369.3 634.3 1371.8 640.1C1374.3 646.0 1376.8 651.8 1379.3 655.1C1381.8 658.5 1384.3 660.1 1386.8 660.1C1389.3 660.1 1391.8 657.6 1394.3 655.1C1396.8 652.6 1399.3 648.7 1401.8 645.1C1404.3 641.6 1406.4 636.8 1409.3 633.9C1412.2 631.0 1416.0 628.9 1419.3 627.6C1422.6 626.4 1426.0 626.4 1429.3 626.4C1432.7 626.3 1436.0 626.8 1439.3 627.1C1442.7 627.4 1446.0 627.0 1449.3 628.1C1452.7 629.2 1456.4 631.0 1459.3 633.9C1462.3 636.7 1464.4 641.0 1466.9 645.1C1469.4 649.3 1471.9 654.7 1474.4 658.9C1476.9 663.1 1479.4 667.7 1481.9 670.2C1484.4 672.6 1486.5 673.4 1489.4 673.4C1492.3 673.4 1495.6 672.0 1499.4 670.2C1503.1 668.4 1508.1 666.4 1511.9 662.7C1515.6 658.9 1519.0 652.4 1521.9 647.6C1524.8 642.8 1527.1 637.2 1529.4 633.9C1531.7 630.5 1533.6 627.8 1535.7 627.6C1537.8 627.4 1539.6 629.9 1541.9 632.6C1544.2 635.3 1546.5 640.5 1549.4 643.9C1552.3 647.2 1555.7 650.4 1559.4 652.6C1563.2 654.9 1567.8 656.5 1572.0 657.1C1576.1 657.8 1580.6 657.5 1584.5 656.4C1588.3 655.3 1592.1 653.8 1595.2 650.3C1598.2 646.8 1600.2 642.4 1602.7 635.3C1605.2 628.2 1607.9 618.6 1610.2 607.8C1612.5 596.9 1614.4 584.0 1616.4 570.2C1618.5 556.5 1620.4 541.1 1622.7 525.2C1625.0 509.4 1627.7 491.0 1630.2 475.2C1632.7 459.3 1635.2 443.9 1637.7 430.1C1640.2 416.4 1642.9 402.0 1645.2 392.6C1647.5 383.2 1649.4 377.8 1651.5 373.8C1653.6 369.9 1655.9 368.6 1657.7 368.8C1659.6 369.0 1661.1 370.3 1662.7 375.1C1664.4 379.9 1666.1 387.6 1667.7 397.6C1669.4 407.6 1671.1 422.2 1672.8 435.1C1674.4 448.1 1676.1 462.7 1677.8 475.2C1679.4 487.7 1681.1 498.5 1682.8 510.2C1684.4 521.9 1685.7 534.0 1687.8 545.2C1689.9 556.5 1691.9 568.2 1695.3 577.8C1698.6 587.3 1703.6 595.3 1707.8 602.8C1712.0 610.3 1716.1 617.2 1720.3 622.8C1724.5 628.4 1729.5 633.3 1732.8 636.6C1736.1 639.8 1737.5 640.3 1740.0 642.5C1742.5 644.7 1744.9 646.2 1748.0 650.0C1751.1 653.8 1755.4 660.1 1758.6 665.2C1761.8 670.2 1764.0 675.3 1767.2 680.3C1770.5 685.3 1774.4 692.1 1778.0 695.4C1781.6 698.6 1785.6 698.9 1788.8 699.7C1792.0 700.5 1794.9 700.8 1797.4 700.1C1799.9 699.5 1801.6 696.4 1803.9 695.8C1806.2 695.2 1809.3 694.7 1811.4 696.5C1813.6 698.2 1814.9 702.4 1816.8 706.2C1818.8 709.9 1821.1 715.7 1823.3 719.1C1825.5 722.5 1827.6 725.6 1829.8 726.6C1831.9 727.7 1833.7 727.9 1836.2 725.6C1838.8 723.2 1842.0 718.4 1844.9 712.6C1847.7 706.9 1851.0 699.0 1853.5 691.1C1856.0 683.2 1857.8 674.9 1860.0 665.2C1862.1 655.5 1864.3 642.9 1866.4 632.9C1868.6 622.8 1870.7 612.4 1872.9 604.8C1875.1 597.3 1876.5 591.3 1879.4 587.6C1882.2 583.8 1886.5 583.6 1890.1 582.2C1893.7 580.7 1897.7 580.2 1900.9 579.0C1904.2 577.7 1906.3 578.6 1909.5 574.6C1912.8 570.7 1917.1 559.9 1920.3 555.2C1923.6 550.6 1926.1 549.1 1929.0 546.6C1931.8 544.1 1934.3 543.7 1937.6 540.1C1940.8 536.5 1945.1 530.4 1948.4 525.1C1951.6 519.7 1954.1 512.7 1957.0 507.8C1959.9 503.0 1962.7 498.5 1965.6 495.9C1968.5 493.4 1971.4 492.5 1974.2 492.7C1977.1 492.9 1980.0 495.4 1982.9 497.0C1985.7 498.6 1987.5 501.2 1991.5 502.4C1995.4 503.7 2002.6 503.0 2006.6 504.6C2010.5 506.2 2012.3 507.6 2015.2 512.1C2018.1 516.6 2020.9 524.3 2023.8 531.5C2026.7 538.7 2029.6 546.6 2032.4 555.2C2035.3 563.9 2038.2 573.2 2041.1 583.3C2043.9 593.3 2046.8 605.5 2049.7 615.6C2052.6 625.7 2055.4 635.0 2058.3 643.6C2061.2 652.3 2064.1 662.0 2066.9 667.3C2069.8 672.7 2073.0 675.6 2075.6 676.0C2078.1 676.3 2079.9 672.6 2082.0 669.5C2084.2 666.5 2086.5 660.1 2088.5 657.6C2090.5 655.2 2091.7 654.1 2093.9 654.8C2096.0 655.6 2098.7 658.1 2101.4 662.0C2104.1 665.8 2107.2 672.2 2110.1 678.1C2112.9 684.1 2115.8 691.4 2118.7 697.5C2121.6 703.6 2124.1 709.0 2127.3 714.8C2130.5 720.5 2134.5 726.6 2138.1 732.0C2141.7 737.4 2145.3 742.5 2148.9 747.1C2152.5 751.8 2156.2 756.3 2159.6 760.1C2163.1 763.8 2167.7 768.1 2169.4 769.8"/>
<path class="c" clip-path="url(#cl)" stroke="#118411" d="M23.8 727.2C28.2 727.4 41.5 728.0 50.0 728.2C58.6 728.4 67.6 728.4 75.1 728.2C82.6 728.0 89.2 727.4 95.1 727.2C100.9 727.0 105.1 728.4 110.1 727.2C115.1 726.0 120.1 724.3 125.1 720.2C130.1 716.1 135.1 708.3 140.1 702.7C145.1 697.1 150.1 690.6 155.1 686.4C160.1 682.3 166.0 680.8 170.2 677.7C174.3 674.5 176.0 672.9 180.2 667.7C184.3 662.4 190.7 651.0 195.2 646.4C199.7 641.8 203.9 640.8 207.2 640.1C210.5 639.5 212.2 640.8 215.2 642.6C218.2 644.5 221.9 649.1 225.2 651.4C228.5 653.7 231.9 654.5 235.2 656.4C238.6 658.3 240.2 661.9 245.2 662.7C250.2 663.4 259.8 660.4 265.2 660.6C270.7 660.9 273.6 662.1 277.8 663.9C281.9 665.7 285.3 669.3 290.3 671.4C295.3 673.5 303.2 673.3 307.8 676.4C312.4 679.5 314.0 685.4 317.8 690.2C321.5 695.0 324.9 701.2 330.3 705.2C335.7 709.2 343.7 710.9 350.3 713.9C357.0 717.0 363.7 721.0 370.3 723.5C377.0 726.0 383.7 728.0 390.4 729.0C397.0 729.9 400.4 729.6 410.4 729.0C420.4 728.3 439.6 725.5 450.4 725.2C461.3 724.9 460.2 727.1 475.4 727.2C490.7 727.3 522.6 725.8 542.0 725.7C561.4 725.6 569.2 726.3 592.0 726.5C614.9 726.6 664.6 726.5 679.1 726.5"/>
<path class="c" clip-path="url(#cr)" stroke="#118411" d="M714.7 725.2C719.2 725.5 732.2 726.6 742.2 727.2C752.2 727.8 766.0 729.0 774.7 729.0C783.5 729.0 789.3 728.7 794.7 727.2C800.2 725.7 802.7 723.9 807.2 720.2C811.8 716.5 818.1 708.7 822.3 705.2C826.4 701.6 828.5 700.0 832.3 698.9C836.0 697.9 841.0 697.9 844.8 698.9C848.5 700.0 851.5 700.8 854.8 705.2C858.1 709.6 861.0 716.9 864.8 725.2C868.6 733.5 873.6 745.6 877.3 755.2C881.1 764.8 884.0 774.0 887.3 782.8C890.7 791.5 893.2 799.4 897.3 807.8C901.5 816.1 907.3 825.7 912.3 832.8C917.3 839.9 922.4 845.7 927.4 850.3C932.4 854.9 936.5 858.2 942.4 860.3C948.2 862.5 956.5 863.0 962.4 863.3C968.2 863.7 972.4 864.1 977.4 862.3C982.4 860.6 985.7 855.2 992.4 852.8C999.1 850.4 1009.9 850.3 1017.4 847.8C1024.9 845.3 1030.0 842.4 1037.5 837.8C1045.0 833.2 1054.7 824.9 1062.5 820.3C1070.2 815.7 1078.7 812.8 1084.0 810.3C1089.3 807.8 1090.3 806.5 1094.0 805.3C1097.8 804.0 1102.4 803.8 1106.5 802.8C1110.7 801.7 1115.3 799.2 1119.0 799.0C1122.8 798.8 1125.7 800.1 1129.0 801.5C1132.4 803.0 1135.7 805.9 1139.1 807.8C1142.4 809.7 1145.7 810.3 1149.1 812.8C1152.4 815.3 1155.7 819.7 1159.1 822.8C1162.4 825.9 1165.7 829.3 1169.1 831.6C1172.4 833.8 1175.8 835.6 1179.1 836.6C1182.4 837.5 1186.2 837.9 1189.1 837.3C1192.0 836.7 1193.7 834.6 1196.6 832.8C1199.5 831.0 1203.7 829.5 1206.6 826.6C1209.5 823.6 1211.2 820.1 1214.1 815.3C1217.0 810.5 1220.8 803.2 1224.1 797.8C1227.5 792.4 1230.4 787.1 1234.1 782.8C1237.9 778.4 1242.5 775.0 1246.7 771.5C1250.8 768.0 1255.0 764.8 1259.2 761.5C1263.3 758.2 1266.7 754.0 1271.7 751.5C1276.7 749.0 1284.6 748.6 1289.2 746.5C1293.8 744.4 1295.9 741.3 1299.2 739.0C1302.5 736.6 1305.5 733.7 1309.2 732.2C1313.0 730.8 1318.0 731.4 1321.7 730.2C1325.5 729.0 1328.8 726.3 1331.7 725.2C1334.6 724.2 1336.3 723.7 1339.2 724.0C1342.2 724.2 1345.9 725.0 1349.2 726.5C1352.6 727.9 1355.9 730.8 1359.3 732.7C1362.6 734.7 1365.1 736.6 1369.3 738.2C1373.4 739.8 1379.7 740.4 1384.3 742.2C1388.9 744.0 1392.6 746.6 1396.8 749.0C1401.0 751.4 1405.5 754.7 1409.3 756.5C1413.1 758.3 1416.0 759.1 1419.3 759.7C1422.6 760.4 1425.6 760.7 1429.3 760.2C1433.1 759.8 1437.7 758.5 1441.8 757.2C1446.0 756.0 1450.6 754.7 1454.3 752.7C1458.1 750.7 1461.0 747.7 1464.4 745.2C1467.7 742.7 1470.6 740.0 1474.4 737.7C1478.1 735.4 1482.3 733.5 1486.9 731.5C1491.5 729.4 1497.7 727.7 1501.9 725.2C1506.1 722.7 1508.6 720.4 1511.9 716.4C1515.2 712.5 1519.0 705.2 1521.9 701.4C1524.8 697.7 1527.1 695.2 1529.4 693.9C1531.7 692.7 1533.6 692.1 1535.7 693.9C1537.8 695.8 1539.6 700.4 1541.9 705.2C1544.2 710.0 1546.9 719.2 1549.4 722.7C1551.9 726.3 1553.2 725.5 1556.9 726.5C1560.7 727.4 1566.9 727.8 1572.0 728.2C1577.0 728.6 1582.8 729.3 1587.0 729.0C1591.1 728.7 1593.6 727.7 1597.0 726.5C1600.3 725.2 1603.6 722.6 1607.0 721.5C1610.3 720.3 1613.8 719.7 1617.0 719.7C1620.2 719.7 1622.4 720.1 1626.0 721.5C1629.6 722.8 1633.9 725.0 1638.5 727.7C1643.1 730.4 1648.9 734.0 1653.5 737.7C1658.1 741.5 1662.7 747.7 1666.0 750.2C1669.4 752.7 1671.0 753.2 1673.5 752.7C1676.0 752.3 1677.7 751.5 1681.1 747.7C1684.4 744.0 1689.4 735.6 1693.6 730.2C1697.7 724.8 1702.3 718.2 1706.1 715.2C1709.8 712.2 1712.7 712.0 1716.1 712.2C1719.4 712.4 1722.3 714.5 1726.1 716.4C1729.8 718.4 1734.4 722.4 1738.6 724.0C1742.8 725.5 1747.8 725.7 1751.1 725.7C1754.5 725.7 1755.2 724.4 1758.6 724.1C1762.0 723.7 1765.8 722.8 1771.6 723.4C1777.3 724.0 1787.4 727.0 1793.1 727.7C1798.9 728.4 1802.1 729.2 1806.1 727.7C1810.0 726.3 1812.5 721.1 1816.8 719.1C1821.1 717.1 1827.3 716.5 1831.9 715.9C1836.6 715.2 1840.9 714.7 1844.9 715.2C1848.8 715.8 1852.1 718.4 1855.6 719.1C1859.2 719.8 1863.2 720.6 1866.4 719.5C1869.7 718.4 1872.2 716.3 1875.1 712.6C1877.9 709.0 1880.8 704.0 1883.7 697.5C1886.5 691.1 1889.4 683.2 1892.3 673.8C1895.2 664.5 1898.0 652.6 1900.9 641.5C1903.8 630.3 1906.7 616.7 1909.5 607.0C1912.4 597.3 1914.9 591.5 1918.2 583.3C1921.4 575.0 1925.4 564.9 1929.0 557.4C1932.5 549.8 1936.5 544.8 1939.7 538.0C1943.0 531.2 1945.5 523.3 1948.4 516.4C1951.2 509.6 1954.1 501.7 1957.0 497.0C1959.9 492.4 1962.4 490.4 1965.6 488.4C1968.8 486.4 1972.8 486.5 1976.4 485.2C1980.0 483.8 1983.6 481.1 1987.2 480.2C1990.8 479.3 1994.4 478.0 1997.9 479.8C2001.5 481.5 2005.1 485.9 2008.7 490.6C2012.3 495.2 2015.9 500.6 2019.5 507.8C2023.1 515.0 2026.7 524.3 2030.3 533.7C2033.9 543.0 2037.5 553.1 2041.1 563.9C2044.7 574.6 2048.6 586.9 2051.8 598.4C2055.1 609.9 2057.6 621.0 2060.5 632.9C2063.3 644.7 2066.2 659.1 2069.1 669.5C2072.0 679.9 2074.8 688.6 2077.7 695.4C2080.6 702.2 2083.5 706.9 2086.3 710.5C2089.2 714.0 2091.4 715.4 2095.0 716.5C2098.6 717.7 2103.6 716.0 2107.9 717.4C2112.2 718.7 2116.2 722.8 2120.8 724.5C2125.5 726.2 2130.9 727.2 2135.9 727.7C2141.0 728.3 2146.4 728.3 2151.0 727.7C2155.7 727.2 2160.9 725.3 2164.0 724.5C2167.0 723.7 2168.5 723.2 2169.4 723.0"/>
</g>
<g id="guides">
<path class="d" d="M207.6 362.2L204.9 1126.0"/>
<path class="d" d="M302.8 483.6L302.8 1148.0"/>
<path class="d" d="M843.6 263.8L845.4 1109.0"/>
<path class="d" d="M880.4 156.2L880.4 1160.0"/>
<path class="d" d="M1534.0 332.9L1534.0 1380.0"/>
<path class="d" d="M1996.0 177.0L1996.0 1478.0"/>
</g>
<g id="bands">
<rect x="938.3" y="355" width="81.7" height="1180.5" fill="#0000ff" fill-opacity="0.2"/>
<rect x="1157.0" y="355" width="81.2" height="1180.5" fill="#0000ff" fill-opacity="0.2"/>
<rect x="892.0" y="444.8" width="147.0" height="1090.7" fill="#ff0000" fill-opacity="0.2"/>
</g>
<g id="frame" fill="none" stroke="#000" stroke-width="5.5" stroke-linecap="butt">
<path d="M679.0 1533.2H23.5V35.0H2171.3V1533.2H714.5" stroke-linejoin="miter"/>
<path d="M661.2 1558.6L696.3 1507.4M697.7 1558.6L732.9 1507.4" stroke-width="4.8"/>
<path d="M96.2 1533.2V1560M313.9 1533.2V1560M532.3 1533.2V1560M715.3 1533.2V1560M988.0 1533.2V1560M1261.2 1533.2V1560M1534.2 1533.2V1560M1808.0 1533.2V1560M2080.6 1533.2V1560" stroke-width="5.5"/>
<path d="M204.6 1533.2V1547M423.2 1533.2V1547M641.4 1533.2V1547M851.6 1533.2V1547M1125.0 1533.2V1547M1398.0 1533.2V1547M1671.0 1533.2V1547M1944.2 1533.2V1547" stroke-width="5.5"/>
</g>
<g id="scalebar" fill="none" stroke="#000" stroke-width="5"><path d="M44 53.5V301.5M36 53.5H52M36 301.5H52"/></g>
<g id="ticklabels" class="k" font-size="64" text-anchor="middle">
<text x="96.2" y="1627">3000</text>
<text x="313.9" y="1627">2850</text>
<text x="532.3" y="1627">2700</text>
<text x="715.3" y="1627">1800</text>
<text x="988.0" y="1627">1650</text>
<text x="1261.2" y="1627">1500</text>
<text x="1534.2" y="1627">1350</text>
<text x="1808.0" y="1627">1200</text>
<text x="2080.6" y="1627">1050</text>
</g>
<text class="k" x="782" y="1716" font-size="71" word-spacing="-2.5">Wavenumber (cm<tspan dx="-2" dy="-25.7" font-size="47">−</tspan><tspan dy="-3.8" font-size="47">1</tspan><tspan dx="2" dy="29.5">)</tspan></text>
<g id="annotations">
<text class="k" x="61.8" y="181.0" font-size="58" letter-spacing="0.17">ΔA= 0.005</text>
<text class="k" x="142.9" y="281.0" font-size="50.5" letter-spacing="0.53" word-spacing="-1">ν<tspan class="se" dy="16.2" font-size="39">s</tspan><tspan dy="-16.2"> (CH</tspan><tspan dy="16.2" font-size="39">2</tspan><tspan dy="-16.2">)</tspan></text>
<text class="b" x="126.6" y="357.6" font-size="50.3" letter-spacing="0.35" word-spacing="2.5">2924 cm<tspan dx="-1.5" dy="-19" font-size="37.5">−</tspan><tspan dy="-3" font-size="37.5">1</tspan></text>
<text class="k" x="249.3" y="400.0" font-size="50.5" letter-spacing="0.28" word-spacing="-1">ν<tspan class="se" dy="16.2" font-size="39">as</tspan><tspan dy="-16.2"> (CH</tspan><tspan dy="16.2" font-size="39">2</tspan><tspan dy="-16.2">)</tspan></text>
<text class="b" x="241.3" y="477.0" font-size="50.3" letter-spacing="0.17" word-spacing="2.5">2855 cm<tspan dx="-1.5" dy="-17.5" font-size="37.5">−</tspan><tspan dy="-3" font-size="37.5">1</tspan></text>
<text class="k" x="792.3" y="90.0" font-size="50.5" letter-spacing="1.13">ν (C=O)</text>
<text class="k" x="807.0" y="157.6" font-size="50.3" word-spacing="2.5">1715 cm<tspan dx="-1.5" dy="-18.5" font-size="37.5">−</tspan><tspan dy="-3" font-size="37.5">1</tspan></text>
<text class="b" x="680.5" y="260.6" font-size="50.3" letter-spacing="0.12" word-spacing="2.5">1733 cm<tspan dx="-1.5" dy="-18.5" font-size="37.5">−</tspan><tspan dy="-3" font-size="37.5">1</tspan></text>
<text class="b" x="906.7" y="340.6" font-size="52" letter-spacing="0.02" word-spacing="2.5">Amide I</text>
<text class="b" x="1122.1" y="339.7" font-size="52" letter-spacing="-0.04" word-spacing="2.5">Amide II</text>
<text class="r" x="910.9" y="550.8" font-size="51.5" letter-spacing="0.28"><tspan class="se" font-size="58">δ</tspan> (O–H)</text>
<text class="k" x="1443.9" y="235.6" font-size="50.5" letter-spacing="0.63"><tspan class="se" font-size="58">δ</tspan> (CH<tspan dy="16.2" font-size="39">2</tspan><tspan dy="-16.2">)</tspan></text>
<text class="b" x="1447.0" y="312.8" font-size="50.3" letter-spacing="0.09" word-spacing="2.5">1353 cm<tspan dx="-1.5" dy="-18.5" font-size="37.5">−</tspan><tspan dy="-3" font-size="37.5">1</tspan></text>
<text class="k" x="1876.8" y="93.8" font-size="50.5" letter-spacing="0.07" word-spacing="-1">ν<tspan class="se" dy="16.2" font-size="39">as</tspan><tspan dy="-16.2"> (C</tspan><tspan dx="2" dy="-4.4" textLength="33" lengthAdjust="spacingAndGlyphs">–</tspan><tspan dx="2" dy="4.4">O</tspan><tspan dx="2" dy="-4.4" textLength="33" lengthAdjust="spacingAndGlyphs">–</tspan><tspan dx="2" dy="4.4">C)</tspan></text>
<text class="b" x="1932.9" y="165.8" font-size="50.3" letter-spacing="-0.28" word-spacing="2.5">1100 cm<tspan dx="0.5" dy="-16" font-size="37.5">−</tspan><tspan dy="-3" font-size="37.5">1</tspan></text>
<text x="35.3" y="690.3" font-size="56"><tspan class="m">3</tspan><tspan class="k" dx="1" dy="-4.4" textLength="38.6" lengthAdjust="spacingAndGlyphs">–</tspan><tspan class="b" dx="-0.75" dy="4.4">2</tspan></text>
<text class="m" x="71.1" y="850.6" font-size="51" letter-spacing="-0.14" word-spacing="2.5">3_NIP<tspan dx="1.6" dy="-5.5" textLength="36.5" lengthAdjust="spacingAndGlyphs">–</tspan><tspan dy="5.5">HbA + Tween</tspan></text>
<text x="31.7" y="1104.0" font-size="52"><tspan class="b">2</tspan><tspan class="k" dx="2.2" dy="-5.5" textLength="36.5" lengthAdjust="spacingAndGlyphs">–</tspan><tspan class="k" dx="1.6" dy="5.5">1</tspan></text>
<text class="b" x="85.8" y="1245.8" font-size="51" letter-spacing="0.23">2_NIP<tspan dx="1.6" dy="-5.5" textLength="36.5" lengthAdjust="spacingAndGlyphs">–</tspan><tspan dy="5.5">HbA</tspan></text>
<text class="k" x="80.0" y="1425.3" font-size="51" letter-spacing="-0.25">1_NIP</text>
</g>
</g>
</svg>
</body>
</html>
